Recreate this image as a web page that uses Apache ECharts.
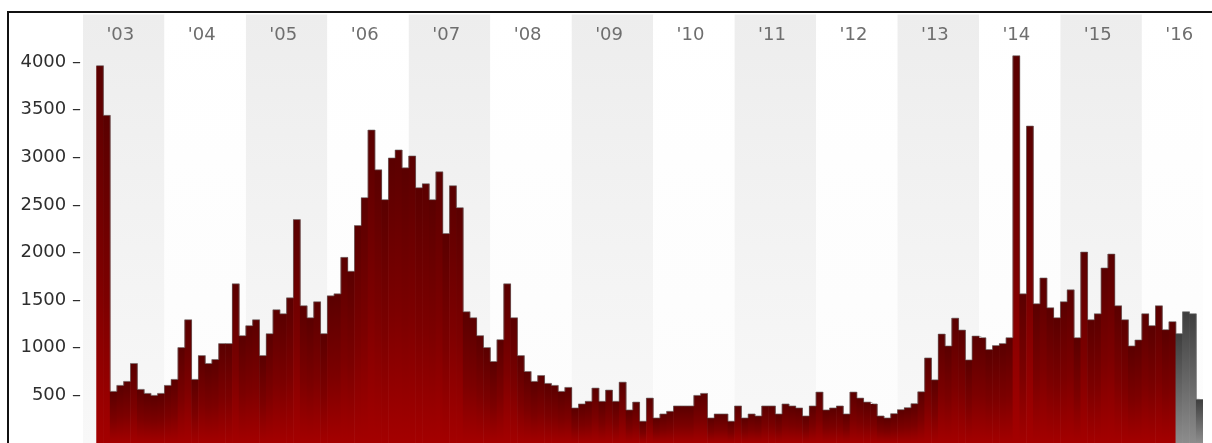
<!DOCTYPE html>
<html>
<head>
<meta charset="utf-8">
<title>Monthly totals 2003-2016</title>
<script src="https://cdn.jsdelivr.net/npm/echarts@6.0.0/dist/echarts.min.js"></script>
<style>
  html, body { margin: 0; padding: 0; background: #fff; }
  #chart { width: 1212px; height: 443px; }
</style>
</head>
<body>
<div id="chart"></div>
<script>
// monthly values, one array per year (series starts Mar 2003)
var v2003 = [null, null, 3962, 3440, 542, 605, 647, 835, 563, 521, 500, 521];
var v2004 = [605, 668, 1002, 1294, 668, 918, 835, 877, 1044, 1044, 1671, 1127];
var v2005 = [1232, 1294, 918, 1148, 1399, 1357, 1524, 2346, 1441, 1315, 1483, 1148];
var v2006 = [1545, 1566, 1949, 1803, 2283, 2576, 3286, 2868, 2555, 2993, 3077, 2889];
var v2007 = [3014, 2680, 2722, 2555, 2847, 2199, 2701, 2471, 1378, 1315, 1127, 1002];
var v2008 = [856, 1085, 1671, 1315, 918, 751, 647, 709, 626, 605, 542, 584];
var v2009 = [368, 410, 438, 577, 438, 556, 438, 639, 347, 430, 229, 472];
var v2010 = [263, 305, 333, 389, 389, 389, 500, 521, 263, 305, 305, 229];
var v2011 = [389, 263, 305, 284, 389, 389, 305, 410, 389, 368, 284, 389];
var v2012 = [535, 347, 368, 389, 305, 535, 472, 430, 410, 284, 263, 308];
var v2013 = [350, 371, 413, 538, 893, 663, 1144, 1019, 1311, 1186, 872, 1123];
var v2014 = [1106, 981, 1023, 1044, 1106, 4066, 1566, 3328, 1462, 1733, 1420, 1315];
var v2015 = [1483, 1608, 1106, 2005, 1294, 1357, 1838, 1984, 1441, 1294, 1019, 1082];
var v2016 = [1357, 1232, 1441, 1190, 1274];
// Jun - Sep 2016, drawn in grey (not final)
var v2016prelim = [1148, 1378, 1357, 459];

var years = [2003, 2004, 2005, 2006, 2007, 2008, 2009, 2010, 2011, 2012, 2013, 2014, 2015, 2016];
var yearLabels = ["'03", "'04", "'05", "'06", "'07", "'08", "'09", "'10", "'11", "'12", "'13", "'14", "'15", "'16"];
var yTickLabels = [500, 1000, 1500, 2000, 2500, 3000, 3500, 4000];

var confirmed = [].concat(v2003, v2004, v2005, v2006, v2007, v2008, v2009,
                          v2010, v2011, v2012, v2013, v2014, v2015, v2016);
var total = confirmed.length + v2016prelim.length;

var months = [];
years.forEach(function (y) {
    for (var m = 1; m <= 12; m++) {
        months.push(y + '-' + (m < 10 ? '0' + m : m));
    }
});
months = months.slice(0, total);

var finalBars = confirmed.concat(v2016prelim.map(function () { return null; }));
var prelimBars = confirmed.map(function () { return null; }).concat(v2016prelim);
var outline = confirmed.concat(v2016prelim);

var chart = echarts.init(document.getElementById('chart'));

var bandGrey = new echarts.graphic.LinearGradient(0, 0, 0, 1, [
    { offset: 0, color: '#ededed' },
    { offset: 1, color: '#f8f8f8' }
]);
var bandWhite = new echarts.graphic.LinearGradient(0, 0, 0, 1, [
    { offset: 0, color: '#ffffff' },
    { offset: 1, color: '#fcfcfc' }
]);

var option = {
    animation: false,
    grid: { left: 83, right: 9, top: 14.4, bottom: -2.2 },
    xAxis: [
        {
            type: 'category',
            data: months,
            position: 'bottom',
            axisLine: { show: false },
            axisTick: { show: false },
            axisLabel: { show: false },
            splitLine: { show: false },
            splitArea: {
                show: true,
                interval: 11,
                areaStyle: { color: [bandGrey, bandWhite] }
            }
        },
        {
            type: 'category',
            data: months,
            position: 'top',
            axisLine: { show: false },
            axisTick: { show: false },
            splitLine: { show: false },
            axisLabel: {
                inside: true,
                margin: 12,
                color: '#6e6e6e',
                fontSize: 18,
                fontFamily: 'DejaVu Sans',
                interval: function (i) { return i % 12 === 5; },
                formatter: function (value, index) {
                    return yearLabels[Math.floor(index / 12)];
                }
            }
        }
    ],
    yAxis: {
        type: 'value',
        min: 0,
        max: 4500,
        interval: 500,
        axisLine: { show: false },
        axisTick: { show: false },
        splitLine: { show: false },
        axisLabel: {
            margin: 2,
            color: '#2e2e2e',
            fontSize: 18,
            fontFamily: 'DejaVu Sans',
            formatter: function (v) {
                return yTickLabels.indexOf(v) >= 0 ? v + ' \u2013' : '';
            }
        }
    },
    graphic: [
        {
            type: 'polyline',
            z: 100,
            shape: { points: [[8, 443], [8, 12], [1212, 12]] },
            style: { stroke: '#111', lineWidth: 2, fill: null }
        }
    ],
    series: [
        {
            name: 'final',
            type: 'bar',
            data: finalBars,
            barWidth: 7.4,
            barGap: '-100%',
            itemStyle: {
                color: new echarts.graphic.LinearGradient(0, 0, 0, 1, [
                    { offset: 0, color: '#5a0000' },
                    { offset: 0.55, color: '#7c0000' },
                    { offset: 1, color: '#a40000' }
                ])
            }
        },
        {
            name: 'provisional',
            type: 'bar',
            data: prelimBars,
            barWidth: 7.4,
            barGap: '-100%',
            itemStyle: {
                color: new echarts.graphic.LinearGradient(0, 0, 0, 1, [
                    { offset: 0, color: '#3e3e3e' },
                    { offset: 1, color: '#8c8c8c' }
                ])
            }
        },
        {
            name: 'edge',
            type: 'line',
            data: outline,
            step: 'middle',
            symbol: 'none',
            silent: true,
            lineStyle: { width: 1, color: 'rgba(110,110,110,0.6)' }
        }
    ]
};

chart.setOption(option);
window.addEventListener('resize', function () {
    chart.resize();
});
</script>
</body>
</html>
